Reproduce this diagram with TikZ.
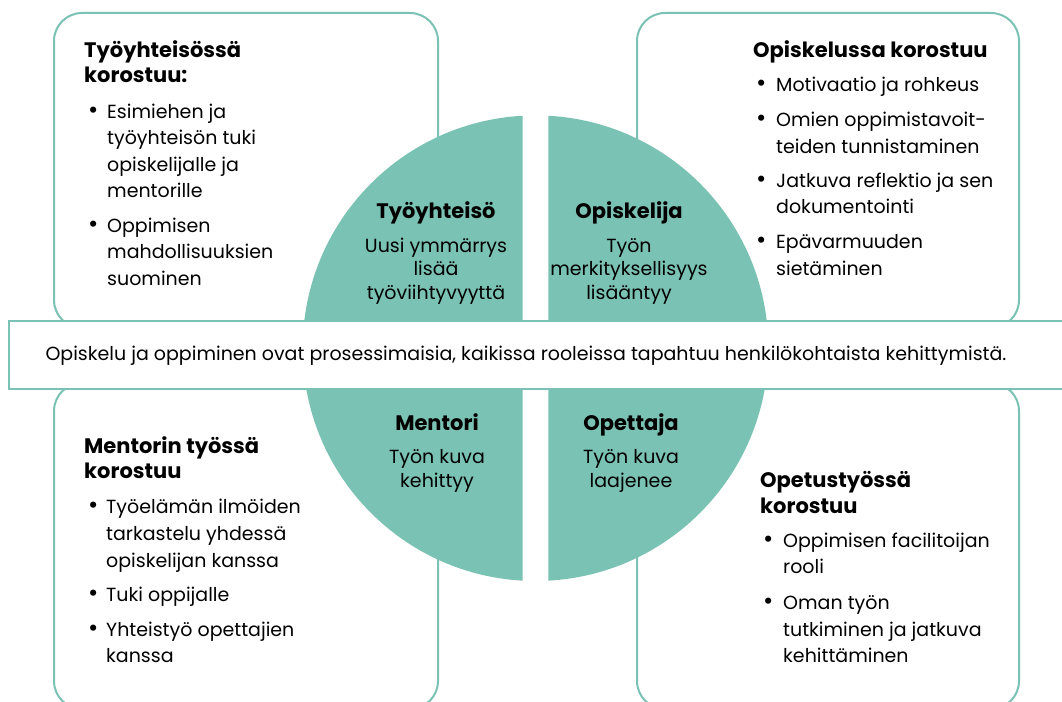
\documentclass[tikz,border=0pt]{standalone}
\usepackage{fontspec}
\setmainfont{Poppins}
\definecolor{myteal}{RGB}{122,194,179}
\begin{document}
\begin{tikzpicture}[x=1pt,y=-1pt,
  box/.style={draw=myteal, line width=2pt, fill=white, rounded corners=28pt, inner sep=0pt},
  txt/.style={anchor=base west, inner sep=0pt, font=\fontsize{19}{26.5}\selectfont},
  head/.style={txt, font=\fontsize{21}{25}\selectfont\bfseries},
  ctxt/.style={anchor=base, inner sep=0pt, font=\fontsize{19}{24}\selectfont},
  chead/.style={ctxt, font=\fontsize{21}{24}\selectfont\bfseries},
  bul/.style={anchor=base west, inner sep=0pt, font=\fontsize{25}{26}\selectfont}]
\useasboundingbox (0,0) rectangle (1062,701);
\clip (0,0) rectangle (1062,701);
% boxes
\node[box, minimum width=384pt, minimum height=315pt, anchor=north west] (tl) at (53,12) {};
\node[box, minimum width=382pt, minimum height=315pt, anchor=north west] (tr) at (636,12) {};
\node[box, minimum width=384pt, minimum height=326pt, anchor=north west] (bl) at (53,382) {};
\node[box, minimum width=382pt, minimum height=326pt, anchor=north west] (br) at (636,382) {};
% circle quadrants
\coordinate (c) at (535.5,348.2);
\begin{scope}
\clip (0,0) rectangle (522.7,701);
\fill[myteal] (c) circle (232.8);
\end{scope}
\begin{scope}
\clip (548.3,0) rectangle (1062,701);
\fill[myteal] (c) circle (232.8);
\end{scope}
% band
\node[draw=myteal, line width=2pt, fill=white, minimum width=1070pt, minimum height=68.5pt, anchor=west, inner sep=0pt] (band) at (8,354.8) {};
\node[ctxt] (bandtxt) at (526,360) {Opiskelu ja oppiminen ovat prosessimaisia, kaikissa rooleissa tapahtuu henkilökohtaista kehittymistä.};
% circle texts
\node[chead] (q1h) at (436,218) {Työyhteisö};
\node[ctxt] (q1a) at (436,252) {Uusi ymmärrys};
\node[ctxt] (q1b) at (436,275.5) {lisää};
\node[ctxt] (q1c) at (436,299) {työviihtyvyyttä};
\node[chead] (q2h) at (629,218) {Opiskelija};
\node[ctxt] (q2a) at (629,252) {Työn};
\node[ctxt] (q2b) at (629,275.5) {merkityksellisyys};
\node[ctxt] (q2c) at (629,299) {lisääntyy};
\node[chead] (q3h) at (437,430) {Mentori};
\node[ctxt] (q3a) at (437,463) {Työn kuva};
\node[ctxt] (q3b) at (437,487) {kehittyy};
\node[chead] (q4h) at (631,430) {Opettaja};
\node[ctxt] (q4a) at (631,463) {Työn kuva};
\node[ctxt] (q4b) at (631,487) {laajenee};
% top-left box text
\node[head] (tlh1) at (84,57) {Työyhteisössä};
\node[head] (tlh2) at (84,82) {korostuu:};
\node[bul] (tlb1) at (88,118) {•};
\node[txt] (tl1) at (107,118) {Esimiehen ja};
\node[txt] (tl2) at (107,144) {työyhteisön tuki};
\node[txt] (tl3) at (107,171) {opiskelijalle ja};
\node[txt] (tl4) at (107,197) {mentorille};
\node[bul] (tlb2) at (88,232) {•};
\node[txt] (tl5) at (107,232) {Oppimisen};
\node[txt] (tl6) at (107,258) {mahdollisuuksien};
\node[txt] (tl7) at (107,285) {suominen};
% top-right box text
\node[head] (trh1) at (753,58) {Opiskelussa korostuu};
\node[bul] (trb1) at (756,92) {•};
\node[txt] (tr1) at (776,92) {Motivaatio ja rohkeus};
\node[bul] (trb2) at (756,126) {•};
\node[txt] (tr2) at (776,126) {Omien oppimistavoit-};
\node[txt] (tr3) at (776,153) {teiden tunnistaminen};
\node[bul] (trb3) at (756,187) {•};
\node[txt] (tr4) at (776,187) {Jatkuva reflektio ja sen};
\node[txt] (tr5) at (776,213) {dokumentointi};
\node[bul] (trb4) at (756,248) {•};
\node[txt] (tr6) at (776,248) {Epävarmuuden};
\node[txt] (tr7) at (776,275) {sietäminen};
% bottom-left box text
\node[head] (blh1) at (84,453) {Mentorin työssä};
\node[head] (blh2) at (84,478) {korostuu};
\node[bul] (blb1) at (88,513) {•};
\node[txt] (bl1) at (106,513) {Työelämän ilmöiden};
\node[txt] (bl2) at (106,540) {tarkastelu yhdessä};
\node[txt] (bl3) at (106,567) {opiskelijan kanssa};
\node[bul] (blb2) at (88,601) {•};
\node[txt] (bl4) at (106,601) {Tuki oppijalle};
\node[bul] (blb3) at (88,636) {•};
\node[txt] (bl5) at (106,636) {Yhteistyö opettajien};
\node[txt] (bl6) at (106,662) {kanssa};
% bottom-right box text
\node[head] (brh1) at (760,487) {Opetustyössä};
\node[head] (brh2) at (760,513) {korostuu};
\node[bul] (brb1) at (763,547) {•};
\node[txt] (br1) at (783,547) {Oppimisen facilitoijan};
\node[txt] (br2) at (783,573) {rooli};
\node[bul] (brb2) at (763,609) {•};
\node[txt] (br3) at (783,609) {Oman työn};
\node[txt] (br4) at (783,636) {tutkiminen ja jatkuva};
\node[txt] (br5) at (783,662) {kehittäminen};
\end{tikzpicture}
\end{document}
